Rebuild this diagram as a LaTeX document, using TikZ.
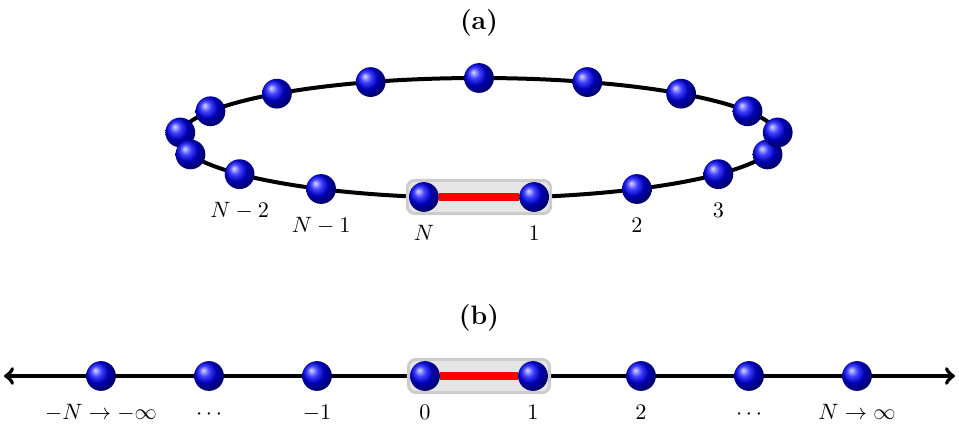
\documentclass[tikz,border=0pt]{standalone}
\usetikzlibrary{positioning,fit,backgrounds}
\begin{document}
\begin{tikzpicture}[x=.45pt,y=.45pt,
        atom/.style={circle,inner sep=0pt,minimum size=13.4pt,ball color=blue},
        lbl/.style={inner sep=0pt,text height=7pt,text depth=2pt},
        bond/.style={red,line width=3.6pt},
        cell/.style={draw=black!20,fill=black!10,line width=1.3pt,rounded corners=3.5pt,inner sep=.6pt},
        chain/.style={line width=1.8pt}]
    \useasboundingbox (0,0) rectangle (959,429);
    % (a) Anillo cerrado: N sitios repartidos sobre una elipse.
    \begin{scope}[shift={(479,291)}]
        \node[font=\large\bfseries] (ta) at (0,115) {(a)};
        \coordinate (ring) at (0,0);
        \foreach \k [evaluate=\k as \aa using {-90+(2*\k+1)*180/17}] in {0,...,16} {
            \node[atom] (a\k) at ({300*cos(\aa)},{60*sin(\aa)}) {};
        }
        \foreach \k/\txt in {0/1,1/2,2/3,16/N,15/N-1,14/N-2} {
            \node[lbl,below=5.6pt of a\k] (la\k) {$\txt$};
        }
        \begin{scope}[on background layer]
            \draw[chain] (ring) ellipse[x radius=300,y radius=60];
            \node[cell,fit=(a16)(a0)] (ca) {};
        \end{scope}
        \draw[bond] (a16) -- (a0);
    \end{scope}
    % (b) Cadena abierta: el limite N -> infinito.
    \begin{scope}[shift={(479,53)}]
        \node[font=\large\bfseries] (tb) at (0,58) {(b)};
        \foreach \j/\txt [count=\i] in {-4/{-N\to-\infty},-3/\cdots,-2/-1,-1/0,0/1,1/2,2/\cdots,3/{N\to\infty}} {
            \node[atom] (b\i) at ({(\j+.5)*108},0) {};
            \node[lbl,below=5.6pt of b\i] (lb\i) {$\txt$};
        }
        \coordinate (left) at (-475,0);
        \coordinate (right) at (476,0);
        \begin{scope}[on background layer]
            \draw[chain,<->] (left) -- (right);
            \node[cell,fit=(b4)(b5)] (cb) {};
        \end{scope}
        \draw[bond] (b4) -- (b5);
    \end{scope}
\end{tikzpicture}
\end{document}
